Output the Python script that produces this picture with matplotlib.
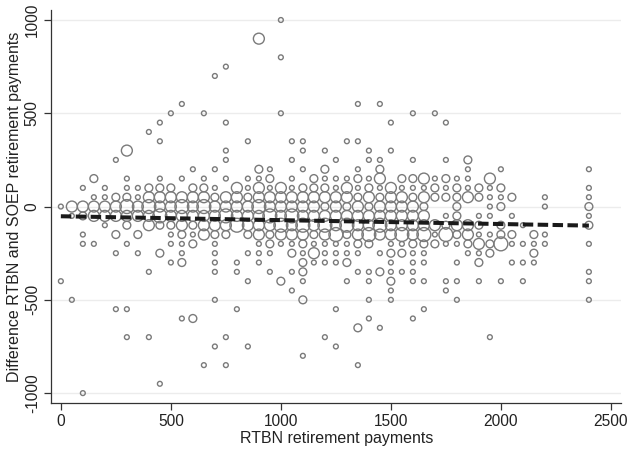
import matplotlib
matplotlib.use("Agg")
import matplotlib.pyplot as plt
import numpy as np

plt.rcParams['font.family'] = ['Liberation Sans', 'DejaVu Sans']

# bubbles: (x, y, weight) grouped by x column
bub = [
    (0, 0, 1), (0, -400, 1),
    (50, 0, 3), (50, -50, 1), (50, -500, 1),
    (100, 100, 1), (100, 0, 3), (100, -50, 2), (100, -150, 1), (100, -200, 1), (100, -1000, 1),
    (150, 150, 2), (150, 50, 1), (150, 0, 3), (150, -50, 3), (150, -200, 1),
    (200, 100, 1), (200, 50, 1), (200, 0, 3), (200, -50, 3), (200, -100, 1),
    (250, 250, 1), (250, 50, 2), (250, 0, 3), (250, -50, 3), (250, -150, 2), (250, -250, 1), (250, -550, 1),
    (300, 300, 3), (300, 150, 1), (300, 100, 1), (300, 50, 2), (300, 0, 4), (300, -50, 3), (300, -100, 2),
    (300, -200, 1), (300, -550, 1), (300, -700, 1),
    (350, 100, 1), (350, 50, 1), (350, 0, 3), (350, -50, 3), (350, -150, 2), (350, -250, 1),
    (400, 400, 1), (400, 100, 2), (400, 50, 3), (400, 0, 4), (400, -50, 3), (400, -100, 3), (400, -350, 1),
    (400, -700, 1),
    (450, 450, 1), (450, 350, 1), (450, 150, 1), (450, 100, 2), (450, 50, 3), (450, 0, 3), (450, -50, 4),
    (450, -100, 2), (450, -250, 2), (450, -950, 1),
    (500, 500, 1), (500, 100, 2), (500, 50, 3), (500, 0, 3), (500, -50, 3), (500, -100, 2), (500, -150, 1),
    (500, -200, 1), (500, -300, 1),
    (550, 550, 1), (550, 150, 1), (550, 50, 3), (550, 0, 4), (550, -50, 3), (550, -100, 3), (550, -150, 2),
    (550, -200, 1), (550, -250, 1), (550, -300, 2), (550, -600, 1),
    (600, 200, 1), (600, 100, 2), (600, 50, 3), (600, 0, 3), (600, -50, 3), (600, -100, 2), (600, -150, 1),
    (600, -200, 2), (600, -600, 2),
    (650, 500, 1), (650, 150, 1), (650, 100, 2), (650, 50, 3), (650, 0, 4), (650, -50, 3), (650, -100, 3),
    (650, -150, 3), (650, -850, 1),
    (700, 700, 1), (700, 200, 1), (700, 100, 1), (700, 50, 2), (700, 0, 3), (700, -50, 3), (700, -100, 3),
    (700, -150, 2), (700, -200, 1), (700, -250, 1), (700, -300, 1), (700, -350, 1), (700, -500, 1),
    (700, -750, 1),
    (750, 750, 1), (750, 450, 1), (750, 300, 1), (750, 250, 1), (750, 150, 1), (750, 50, 3), (750, 0, 3),
    (750, -50, 4), (750, -100, 3), (750, -150, 2), (750, -700, 1), (750, -850, 1),
    (800, 100, 3), (800, 50, 3), (800, 0, 3), (800, -50, 3), (800, -100, 4), (800, -300, 1), (800, -350, 1),
    (800, -550, 1),
    (850, 350, 1), (850, 150, 1), (850, 100, 1), (850, 50, 2), (850, 0, 3), (850, -50, 3), (850, -100, 3),
    (850, -150, 2), (850, -250, 1), (850, -400, 1), (850, -750, 1),
    (900, 900, 3), (900, 200, 2), (900, 150, 1), (900, 100, 3), (900, 50, 3), (900, 0, 4), (900, -50, 3),
    (900, -100, 3), (900, -150, 3), (900, -200, 1), (900, -250, 1), (900, -300, 1),
    (950, 200, 1), (950, 150, 2), (950, 100, 1), (950, 50, 3), (950, 0, 3), (950, -50, 4), (950, -100, 3),
    (950, -150, 2), (950, -200, 2), (950, -250, 1), (950, -350, 1),
    (1000, 1000, 1), (1000, 800, 1), (1000, 500, 1), (1000, 100, 3), (1000, 50, 3), (1000, 0, 3),
    (1000, -50, 3), (1000, -100, 4), (1000, -150, 3), (1000, -200, 1), (1000, -400, 2),
    (1050, 350, 1), (1050, 250, 1), (1050, 150, 1), (1050, 100, 1), (1050, 50, 3), (1050, 0, 3),
    (1050, -50, 4), (1050, -100, 3), (1050, -150, 3), (1050, -200, 1), (1050, -250, 2), (1050, -350, 1),
    (1050, -450, 1),
    (1100, 350, 1), (1100, 300, 1), (1100, 200, 1), (1100, 100, 2), (1100, 50, 3), (1100, 0, 3),
    (1100, -50, 3), (1100, -100, 4), (1100, -150, 3), (1100, -200, 2), (1100, -250, 1), (1100, -300, 2),
    (1100, -350, 2), (1100, -400, 1), (1100, -500, 2), (1100, -800, 1),
    (1150, 150, 2), (1150, 100, 2), (1150, 50, 3), (1150, 0, 3), (1150, -50, 3), (1150, -100, 3),
    (1150, -150, 2), (1150, -200, 1), (1150, -250, 3), (1150, -300, 1),
    (1200, 300, 1), (1200, 200, 2), (1200, 150, 1), (1200, 100, 2), (1200, 50, 3), (1200, 0, 2),
    (1200, -50, 3), (1200, -100, 4), (1200, -150, 3), (1200, -200, 1), (1200, -250, 1), (1200, -300, 1),
    (1200, -700, 1),
    (1250, 250, 1), (1250, 150, 1), (1250, 100, 1), (1250, 50, 3), (1250, 0, 3), (1250, -50, 3),
    (1250, -100, 3), (1250, -150, 4), (1250, -200, 1), (1250, -250, 1), (1250, -300, 1), (1250, -550, 1),
    (1250, -750, 1),
    (1300, 350, 1), (1300, 150, 1), (1300, 100, 3), (1300, 50, 3), (1300, 0, 2), (1300, -50, 3),
    (1300, -100, 4), (1300, -150, 2), (1300, -200, 1), (1300, -250, 1), (1300, -300, 2), (1300, -400, 1),
    (1350, 550, 1), (1350, 350, 1), (1350, 200, 1), (1350, 150, 2), (1350, 100, 1), (1350, 50, 2),
    (1350, 0, 3), (1350, -50, 3), (1350, -100, 3), (1350, -150, 3), (1350, -200, 2), (1350, -250, 1),
    (1350, -350, 1), (1350, -650, 2), (1350, -850, 1),
    (1400, 300, 1), (1400, 250, 1), (1400, 150, 1), (1400, 100, 2), (1400, 50, 3), (1400, 0, 2),
    (1400, -50, 3), (1400, -100, 3), (1400, -150, 4), (1400, -200, 2), (1400, -350, 1), (1400, -400, 1),
    (1400, -500, 1), (1400, -600, 1),
    (1450, 550, 1), (1450, 250, 1), (1450, 200, 2), (1450, 150, 3), (1450, 100, 1), (1450, 50, 2),
    (1450, 0, 3), (1450, -50, 3), (1450, -100, 4), (1450, -150, 3), (1450, -250, 1), (1450, -350, 2),
    (1450, -650, 1),
    (1500, 450, 1), (1500, 300, 1), (1500, 100, 3), (1500, 50, 3), (1500, 0, 3), (1500, -50, 3),
    (1500, -100, 3), (1500, -150, 3), (1500, -200, 1), (1500, -250, 2), (1500, -300, 1), (1500, -350, 1),
    (1500, -400, 2), (1500, -450, 1), (1500, -500, 1),
    (1550, 150, 2), (1550, 100, 1), (1550, 50, 3), (1550, 0, 3), (1550, -50, 3), (1550, -100, 3),
    (1550, -150, 4), (1550, -200, 1), (1550, -250, 2), (1550, -350, 1),
    (1600, 500, 1), (1600, 250, 1), (1600, 150, 2), (1600, 100, 1), (1600, 50, 2), (1600, 0, 3),
    (1600, -50, 3), (1600, -100, 3), (1600, -150, 3), (1600, -200, 2), (1600, -250, 1), (1600, -300, 1),
    (1600, -350, 1), (1600, -400, 1), (1600, -600, 1),
    (1650, 150, 3), (1650, 100, 1), (1650, 50, 3), (1650, 0, 2), (1650, -50, 3), (1650, -100, 3),
    (1650, -150, 4), (1650, -200, 2), (1650, -250, 1), (1650, -300, 1), (1650, -400, 1), (1650, -550, 1),
    (1700, 500, 1), (1700, 150, 1), (1700, 100, 2), (1700, 50, 2), (1700, -100, 3), (1700, -150, 1),
    (1700, -200, 2),
    (1750, 450, 1), (1750, 250, 1), (1750, 150, 2), (1750, 100, 1), (1750, 50, 2), (1750, -50, 1),
    (1750, -100, 2), (1750, -150, 4), (1750, -200, 1), (1750, -400, 1), (1750, -450, 1),
    (1800, 150, 1), (1800, 100, 2), (1800, 50, 2), (1800, 0, 2), (1800, -50, 2), (1800, -100, 3),
    (1800, -150, 2), (1800, -200, 1), (1800, -300, 1), (1800, -400, 1), (1800, -500, 1),
    (1850, 250, 2), (1850, 200, 1), (1850, 150, 1), (1850, 100, 1), (1850, 50, 3), (1850, -100, 3),
    (1850, -150, 3), (1850, -200, 2), (1850, -250, 1),
    (1900, 100, 2), (1900, 50, 2), (1900, -50, 1), (1900, -100, 2), (1900, -150, 1), (1900, -200, 3),
    (1900, -250, 1), (1900, -300, 2), (1900, -400, 1),
    (1950, 150, 3), (1950, 100, 1), (1950, 50, 1), (1950, 0, 1), (1950, -50, 1), (1950, -150, 1),
    (1950, -200, 2), (1950, -250, 2), (1950, -700, 1),
    (2000, 200, 1), (2000, 100, 2), (2000, 50, 1), (2000, 0, 2), (2000, -100, 2), (2000, -150, 2),
    (2000, -200, 4), (2000, -400, 1),
    (2050, 50, 2), (2050, -50, 1), (2050, -150, 2), (2050, -200, 1), (2050, -300, 1),
    (2100, -100, 1), (2100, -200, 1), (2100, -300, 1), (2100, -400, 1),
    (2150, -150, 2), (2150, -200, 1), (2150, -250, 2), (2150, -300, 1),
    (2200, 50, 1), (2200, 0, 1), (2200, -150, 1), (2200, -200, 1),
    (2400, 200, 1), (2400, 100, 1), (2400, 50, 1), (2400, 0, 2), (2400, -50, 1), (2400, -100, 2),
    (2400, -200, 1), (2400, -350, 1), (2400, -400, 1), (2400, -500, 1),
]
bub_x = [b[0] for b in bub]
bub_y = [b[1] for b in bub]
bub_w = [b[2] for b in bub]

# fitted line end points
fit_x = [0, 2400]
fit_y = [-52, -102]

x_ticks = [0, 500, 1000, 1500, 2000, 2500]
y_ticks = [-1000, -500, 0, 500, 1000]

size_map = {1: 12, 2: 32, 3: 62, 4: 100}
sizes = [size_map[w] for w in bub_w]

fig = plt.figure(figsize=(6.29, 4.51), dpi=100)
ax = fig.add_axes([0.081, 0.106, 0.907, 0.872])

for y in y_ticks:
    ax.axhline(y, color='#ececec', lw=1.0, zorder=0)

ax.scatter(bub_x, bub_y, s=sizes, facecolors='none', edgecolors='#7a7a7a',
           linewidths=1.0, zorder=2)
ax.plot(fit_x, fit_y, color='#1a1a1a', lw=2.9, linestyle=(0, (2.6, 1.1)), zorder=3)

ax.set_xlim(-45, 2548)
ax.set_ylim(-1054, 1054)
ax.set_xticks(x_ticks)
ax.set_yticks(y_ticks)
ax.set_yticklabels([str(v) for v in y_ticks], rotation=90, va='center')

for s in ['top', 'right']:
    ax.spines[s].set_visible(False)
for s in ['left', 'bottom']:
    ax.spines[s].set_color('#333333')
    ax.spines[s].set_linewidth(0.9)
ax.tick_params(axis='both', direction='out', length=5, width=0.9, color='#333333',
               labelsize=11.2, labelcolor='#222222', pad=3)

ax.set_xlabel('RTBN retirement payments', fontsize=11.5, color='#222222', labelpad=1)
ax.set_ylabel('Difference RTBN and SOEP retirement payments', fontsize=11.5,
              color='#222222', labelpad=2)

fig.savefig('out.png', dpi=100)
